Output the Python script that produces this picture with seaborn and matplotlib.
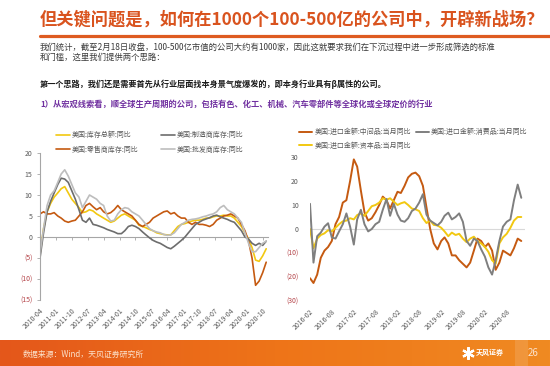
import numpy as np
import pandas as pd
import matplotlib
matplotlib.use('Agg')
import matplotlib.pyplot as plt
from matplotlib.colors import LinearSegmentedColormap
from matplotlib.lines import Line2D
import seaborn as sns


# --- 1. Data ---
# left panel: US inventories yoy, one point every two months from 2010-04
LEFT_START = '2010-04-01'
total_inv = [-4, 2, 6, 8, 9.5, 10.5, 11.5, 12, 10.5, 9,
             8, 7, 5.8, 6, 6.5, 6.2, 5.5, 5, 4.5, 4,
             3.5, 3.8, 4.5, 5.2, 5.5, 5, 4.5, 4, 2.8, 2.5,
             2.2, 1.8, 1.5, 1, 0.8, 0.6, 0.5, 0.5, 1.5, 2.5,
             3, 3.2, 3.5, 3.8, 4, 4, 4.2, 4.5, 4.5, 4.8,
             5, 5, 5.2, 5, 5, 4.5, 3.5, 2.5, 1, -0.5,
             -2.5, -5.5, -5.8, -4.5, -2.8]
retail_inv = [5.5, 6, 5.5, 5.5, 5.8, 5, 4.5, 3.8, 3.5, 3.8,
              4, 5, 6, 7.5, 8, 7.2, 6.5, 7, 6, 5.5,
              5.8, 6.5, 7.5, 6.5, 6, 5.5, 5, 4, 3, 2.5,
              3, 3.5, 4.5, 5, 5.5, 6, 6.2, 5.5, 5.8, 5,
              4.5, 4.5, 3.5, 3, 3.5, 3, 3, 2.8, 2.5, 3,
              4, 4.5, 5, 5.2, 5.5, 5, 4.5, 3, 1.5, -1,
              -5, -11.5, -10.5, -8.5, -6]
mfg_inv = [-5, 1, 6, 8.5, 10.5, 12.5, 14, 13.8, 13, 11,
           9, 6.5, 4, 3.5, 4.5, 3, 2.8, 2.5, 2.2, 1.8,
           1.5, 1.2, 0.8, 0.8, 1.5, 2.5, 2.8, 2.5, 2, 1.2,
           0.5, -0.2, -0.8, -1.2, -1.5, -2, -2.5, -2.8, -2.2, -1.5,
           -0.8, 0, 1, 2, 3, 3.5, 4, 4.3, 4.6, 5,
           5.2, 4.8, 4.5, 4.2, 3.8, 3.5, 2.5, 1.5, 0, -0.5,
           -1.5, -2, -1.5, -2, -1]
wholesale_inv = [-4, 2, 7.5, 10, 11, 13, 15, 16, 14.5, 12.5,
                 10.5, 9.5, 7, 8.5, 10, 9.5, 9, 8, 7.5, 5,
                 3.8, 4, 5.5, 6.5, 7, 6.8, 6, 5.5, 5, 4,
                 3, 2, 1.5, 1.2, 1, 0.6, 0.4, 0.5, 1, 2,
                 3, 3.5, 4, 4.2, 4.3, 4.5, 4.8, 5, 5.3, 5.5,
                 6, 7, 7.5, 6.5, 6, 5.5, 4.5, 3.5, 1, -1.5,
                 -3.5, -3.5, -2.5, -1.5, -1]
LEFT_LABELS = ['美国:库存总额:同比', '美国:零售商库存:同比',
               '美国:制造商库存:同比', '美国:批发商库存:同比']
LEFT_COLORS = ['#F2C811', '#C55A11', '#6D6D6D', '#BDBDBD']
left_ticks = ['2010-04', '2011-01', '2011-10', '2012-07', '2013-04', '2014-01',
              '2014-10', '2015-07', '2016-04', '2017-01', '2017-10', '2018-07',
              '2019-04', '2020-01', '2020-10']
left_yticks = [-15, -10, -5, 0, 5, 10, 15, 20]

# right panel: US imports yoy by category, monthly from 2016-02
RIGHT_START = '2016-02-01'
imp_intermediate = [-20.5, -22.5, -19, -12, -9, -7.5, -5, 2, 5, 11,
                    12, 20, 29, 26, 16, 7, 3.5, 4.5, 7, 10,
                    13.5, 12, 8.5, 12, 15.5, 15, 18, 21.5, 23, 23.5,
                    22, 18, 9, 0, -6, -8.5, -5, -3.5, -6, -11,
                    -11, -13, -14.5, -16, -14, -9, -4, -5, -7.5, -6,
                    -9, -17, -14, -9, -10, -11, -8, -4, -5]
imp_capital = [0, -8, -4, -2.5, -1.8, -0.5, -1, 0.5, 2, 3.2,
               3.5, 4.5, 4, 5.8, 6.5, 5.5, 7.5, 9.5, 10, 11,
               12.8, 12.2, 12.8, 11.4, 10, 10.7, 11.2, 10, 8.5, 8.2,
               7.5, 4.5, 2.5, 3.5, 1.7, 1.5, 0.5, -1, -3, -1.5,
               -2.5, -2, -4, -5.5, -4, -3.2, -5, -6, -7.5, -9.5,
               -13, -14.5, -6, -3.5, -2, 0.5, 3.5, 5, 5]
imp_consumer = [10.5, -14, -3, -1.5, 1, 2.4, -3.5, -4, -1, 2,
                6.5, 1, -6.5, 4, 8, 2, -1, 0, 2, 3,
                8, 12.5, 5.5, 10.5, 6, 3.5, 3, 4.5, 7.5, 8.5,
                11, 14.5, 6, 3.5, 2.5, 1.5, 3, 5.5, 6.8, 4,
                5, 6.5, 3, -5, -7, -4, -5, -8.5, -11.5, -16,
                -19, -13, -5, 1, 3, 4, 12, 18.5, 13]
RIGHT_LABELS = ['美国:进口金额:中间品:当月同比', '美国:进口金额:资本品:当月同比',
                '美国:进口金额:消费品:当月同比']
RIGHT_COLORS = ['#C55A11', '#F2C811', '#7F7F7F']
right_ticks = ['2016-02', '2016-08', '2017-02', '2017-08', '2018-02', '2018-08',
               '2019-02', '2019-08', '2020-02', '2020-08']
right_yticks = [-30, -20, -10, 0, 10, 20, 30]

# slide text
TITLE = '但关键问题是，如何在1000个100-500亿的公司中，开辟新战场？'
BODY_1 = '我们统计，截至2月18日收盘，100-500亿市值的公司大约有1000家，因此这就要求我们在下沉过程中进一步形成筛选的标准'
BODY_2 = '和门槛，这里我们提供两个思路：'
BOLD_LINE = '第一个思路，我们还是需要首先从行业层面找本身景气度爆发的，即本身行业具有β属性的公司。'
PURPLE_LINE = '1）从宏观线索看，顺全球生产周期的公司，包括有色、化工、机械、汽车零部件等全球化或全球定价的行业'
SOURCE = '数据来源：Wind，天风证券研究所'

# --- 2. Long-form frames for seaborn ---
left_dates = pd.date_range(LEFT_START, periods=len(total_inv), freq='2MS')
left_df = pd.concat([
    pd.DataFrame({'date': left_dates, 'value': vals, 'series': name})
    for name, vals in zip(LEFT_LABELS, [total_inv, retail_inv, mfg_inv, wholesale_inv])
])
right_dates = pd.date_range(RIGHT_START, periods=len(imp_intermediate), freq='MS')
right_df = pd.concat([
    pd.DataFrame({'date': right_dates, 'value': vals, 'series': name})
    for name, vals in zip(RIGHT_LABELS, [imp_intermediate, imp_capital, imp_consumer])
])

# --- 3. Figure setup ---
sns.set_theme(style='white')
plt.rcParams['font.family'] = ['Noto Sans CJK SC', 'DejaVu Sans']
plt.rcParams['axes.unicode_minus'] = False

W, H = 550, 366
fig = plt.figure(figsize=(W / 100, H / 100), dpi=100)
fig.patch.set_facecolor('white')

GREY = '#595959'
NEG_RED = '#B5454A'


def fx(x):
    return x / W


def fy(y):
    return 1 - y / H


def style_yticks(ax, ticks):
    ax.set_yticks(ticks)
    ax.set_yticklabels([f'({abs(t)})' if t < 0 else str(t) for t in ticks])
    for lbl, t in zip(ax.get_yticklabels(), ticks):
        lbl.set_color(NEG_RED if t < 0 else GREY)


# --- 4. Left panel ---
ax1 = fig.add_axes([fx(40), fy(300), fx(228), 147 / H])
sns.lineplot(data=left_df, x='date', y='value', hue='series', hue_order=LEFT_LABELS,
             palette=LEFT_COLORS, linewidth=1.2, ax=ax1)
ax1.set_xlim(pd.Timestamp('2010-04-01'), pd.Timestamp('2021-01-01'))
ax1.set_ylim(-15, 20)
ax1.set_xlabel('')
ax1.set_ylabel('')
ax1.set_xticks(pd.to_datetime(left_ticks))
ax1.set_xticklabels(left_ticks, rotation=45, ha='right', rotation_mode='anchor')
style_yticks(ax1, left_yticks)
for s in ['top', 'right', 'bottom']:
    ax1.spines[s].set_visible(False)
ax1.spines['left'].set_color('#A6A6A6')
ax1.spines['left'].set_linewidth(0.8)
ax1.tick_params(axis='x', length=0, labelsize=5, labelcolor=GREY, pad=5)
ax1.tick_params(axis='y', direction='out', length=2.5, width=0.6, color='#A6A6A6',
                labelsize=5, pad=3, left=True)
# zero line with tick marks, like the Excel category axis crossing at 0
sec = ax1.secondary_xaxis(15 / 35)
sec.set_alignment('bottom')
sec.set_xticks(pd.to_datetime(left_ticks))
sec.tick_params(axis='x', direction='out', length=2.5, width=0.6, color='#A6A6A6',
                labelbottom=False, labeltop=False)
sec.spines['bottom'].set_color('#A6A6A6')
sec.spines['bottom'].set_linewidth(0.8)

h1, l1 = ax1.get_legend_handles_labels()
ax1.legend(h1, l1, ncol=2, loc='center', bbox_to_anchor=(0.482, 1.071), frameon=False,
           fontsize=5, handlelength=1.9, handletextpad=0.3, columnspacing=3.3,
           labelspacing=0.9, labelcolor=GREY, borderpad=0)

# --- 5. Right panel ---
ax2 = fig.add_axes([fx(310), fy(301), fx(215), 144 / H])
ax2.axhline(0, color='#D9D9D9', linewidth=0.8, zorder=0)
sns.lineplot(data=right_df, x='date', y='value', hue='series', hue_order=RIGHT_LABELS,
             palette=RIGHT_COLORS, linewidth=1.4, ax=ax2)
ax2.set_xlim(pd.Timestamp('2016-02-01'), pd.Timestamp('2021-01-01'))
ax2.set_ylim(-30, 30)
ax2.set_xlabel('')
ax2.set_ylabel('')
ax2.set_xticks(pd.to_datetime(right_ticks))
ax2.set_xticklabels(right_ticks, rotation=45, ha='right', rotation_mode='anchor')
style_yticks(ax2, right_yticks)
for s in ax2.spines.values():
    s.set_visible(False)
ax2.tick_params(axis='x', length=0, labelsize=5, labelcolor=GREY, pad=5)
ax2.tick_params(axis='y', length=0, labelsize=5, pad=8)

h2, l2 = ax2.get_legend_handles_labels()
ax2.legend(h2, l2, ncol=2, loc='center', bbox_to_anchor=(0.481, 1.125), frameon=False,
           fontsize=5, handlelength=1.9, handletextpad=0.3, columnspacing=0.7,
           labelspacing=0.75, labelcolor=GREY, borderpad=0)

# --- 6. Slide text ---
fig.text(fx(40), fy(20), TITLE, fontsize=12.4, fontweight='bold', color='#D9531E',
         ha='left', va='center')
fig.add_artist(Line2D([fx(40), 1], [fy(36), fy(36)], color='#DE5B20', linewidth=2.3,
                      transform=fig.transFigure))
fig.text(fx(40), fy(47), BODY_1, fontsize=6.0, color='#3A3A3A', ha='left', va='center')
fig.text(fx(40), fy(57.5), BODY_2, fontsize=6.0, color='#3A3A3A', ha='left', va='center')
fig.text(fx(40), fy(84), BOLD_LINE, fontsize=5.85, fontweight='bold', color='#1A1A1A',
         ha='left', va='center')
fig.text(fx(40), fy(104), PURPLE_LINE, fontsize=5.95, fontweight='bold', color='#7030A0',
         ha='left', va='center')

# --- 7. Footer bar ---
fax = fig.add_axes([0, 0, 1, 26 / H])
footer_cmap = LinearSegmentedColormap.from_list('footer', ['#E4571B', '#EE7418', '#F08A22'])
fax.imshow(np.linspace(0, 1, 256)[None, :], aspect='auto', cmap=footer_cmap,
           extent=[0, W, 0, 26])
fax.axvspan(515, 528, color='white', alpha=0.12, linewidth=0)
fax.plot([468], [13], marker=(6, 2, 0), markersize=9, color='white', markeredgewidth=1.6)
fax.set_xlim(0, W)
fax.set_ylim(0, 26)
fax.axis('off')
fig.text(fx(23), fy(354), SOURCE, fontsize=5.7, color='#FBE2CC', ha='left', va='center')
fig.text(fx(476), fy(352), '天风证券', fontsize=5, fontweight='bold', color='white',
         ha='left', va='center')
fig.text(fx(533), fy(353), '26', fontsize=7, color='#FBE2CC', ha='center', va='center')

fig.savefig('out.png', dpi=100)
